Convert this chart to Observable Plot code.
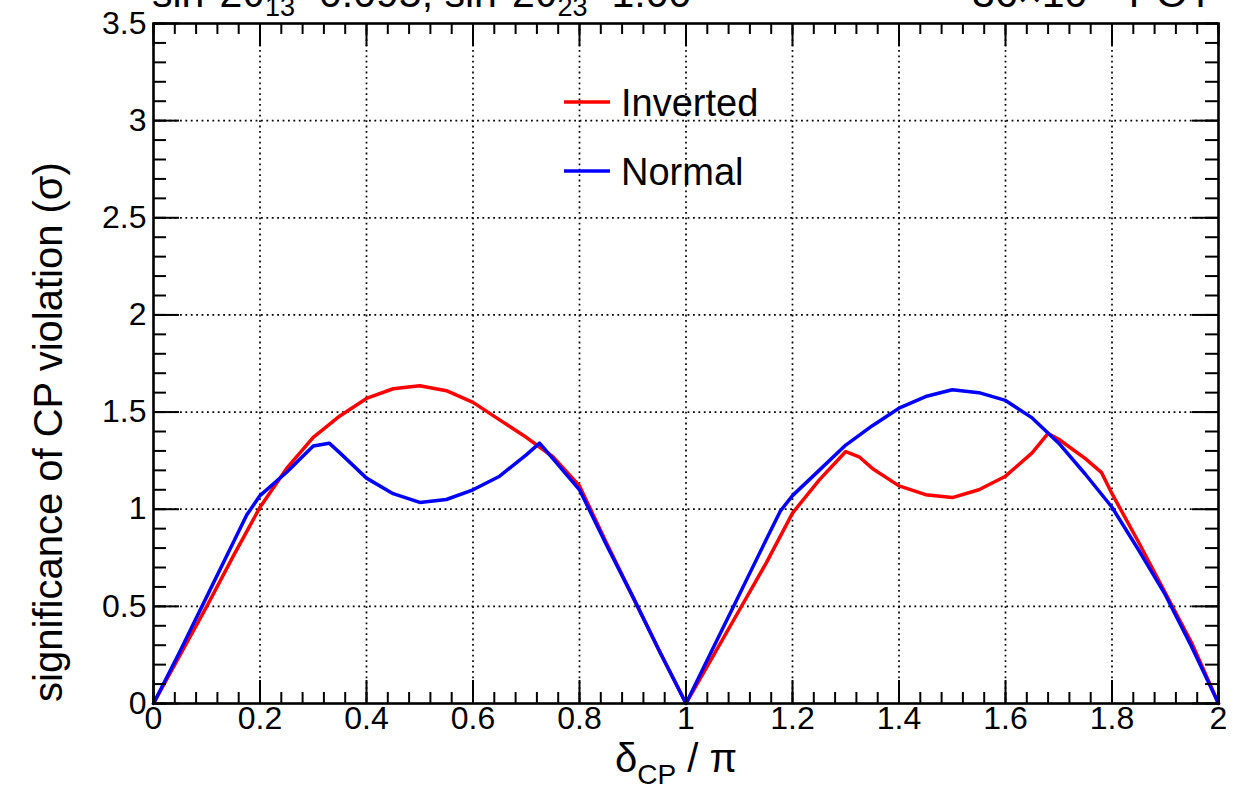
<!DOCTYPE html>
<html><head><meta charset="utf-8">
<script src="https://cdn.jsdelivr.net/npm/d3@7"></script>
<script src="https://cdn.jsdelivr.net/npm/@observablehq/plot@0.6"></script>
<style>
body{margin:0;background:#fff;}
#chart svg{display:block;}
</style></head><body><div id="chart"></div>
<script>
// ---- data ----
const deltaInverted = [0,0.05,0.1,0.15,0.2,0.25,0.3,0.35,0.4,0.45,0.5,0.55,0.6,0.65,0.7,0.75,0.8,0.85,0.9,0.95,1.0,
  1.05,1.1,1.15,1.2,1.25,1.3,1.325,1.35,1.4,1.45,1.5,1.55,1.6,1.65,1.68,1.7,1.75,1.78,1.8,1.85,1.9,1.95,2.0];
const sigmaInverted = [0,0.25,0.5,0.76,1.01,1.21,1.37,1.48,1.57,1.62,1.635,1.61,1.55,1.46,1.37,1.27,1.12,0.83,0.55,0.27,0,
  0.24,0.48,0.72,0.98,1.15,1.297,1.27,1.21,1.12,1.075,1.06,1.10,1.17,1.29,1.39,1.36,1.26,1.19,1.08,0.83,0.57,0.31,0];
const deltaNormal = [0,0.05,0.1,0.15,0.175,0.2,0.25,0.3,0.33,0.35,0.4,0.45,0.5,0.55,0.6,0.65,0.7,0.725,0.75,0.8,0.85,0.9,0.95,1.0,
  1.05,1.1,1.15,1.177,1.2,1.25,1.3,1.35,1.4,1.45,1.5,1.55,1.6,1.65,1.7,1.75,1.8,1.85,1.9,1.95,2.0];
const sigmaNormal = [0,0.27,0.55,0.83,0.97,1.07,1.19,1.325,1.34,1.29,1.16,1.08,1.035,1.05,1.10,1.17,1.28,1.34,1.26,1.10,0.82,0.55,0.27,0,
  0.28,0.56,0.84,0.99,1.07,1.2,1.33,1.43,1.52,1.58,1.615,1.60,1.56,1.47,1.34,1.18,1.01,0.79,0.56,0.29,0];
const seriesNames = ["Inverted", "Normal"];
const seriesColors = ["#ff0000", "#0000ff"];
const xTicks = [0,0.2,0.4,0.6,0.8,1,1.2,1.4,1.6,1.8,2];
const yTicks = [0,0.5,1,1.5,2,2.5,3,3.5];
const xMinor = d3.range(0, 51).map(i => i * 0.04);
const yMinor = d3.range(0, 36).map(i => i * 0.1);

const rows = [
  ...deltaInverted.map((d, i) => ({series: seriesNames[0], delta: d, sigma: sigmaInverted[i]})),
  ...deltaNormal.map((d, i) => ({series: seriesNames[1], delta: d, sigma: sigmaNormal[i]}))
];

// ---- layout ----
const W = 1249, H = 791, mL = 153, mR = 31, mT = 23, mB = 88;
const innerW = W - mL - mR, innerH = H - mT - mB;
const FONT = "'Liberation Sans', Arial, Helvetica, sans-serif";

const plot = Plot.plot({
  width: W, height: H,
  marginLeft: mL, marginRight: mR, marginTop: mT, marginBottom: mB,
  style: {fontFamily: FONT, fontSize: "32px", color: "black", background: "white", overflow: "visible"},
  x: {domain: [0, 2], label: null},
  y: {domain: [0, 3.5], label: null},
  color: {domain: seriesNames, range: seriesColors},
  marks: [
    Plot.ruleX(xTicks.slice(1, -1), {stroke: "black", strokeWidth: 1.7, strokeDasharray: "1.8,3.6"}),
    Plot.ruleY(yTicks.slice(1, -1), {stroke: "black", strokeWidth: 1.7, strokeDasharray: "1.8,3.6"}),
    Plot.line(rows, {x: "delta", y: "sigma", z: "series", stroke: "series", strokeWidth: 3.5, strokeLinejoin: "round"}),
    // inward ticks on all four sides
    Plot.ruleX(xTicks, {stroke: "black", strokeWidth: 2, insetTop: innerH - 23}),
    Plot.ruleX(xTicks, {stroke: "black", strokeWidth: 2, insetBottom: innerH - 23}),
    Plot.ruleX(xMinor, {stroke: "black", strokeWidth: 2, insetTop: innerH - 11}),
    Plot.ruleX(xMinor, {stroke: "black", strokeWidth: 2, insetBottom: innerH - 11}),
    Plot.ruleY(yTicks, {stroke: "black", strokeWidth: 2, insetRight: innerW - 26}),
    Plot.ruleY(yTicks, {stroke: "black", strokeWidth: 2, insetLeft: innerW - 26}),
    Plot.ruleY(yMinor, {stroke: "black", strokeWidth: 2, insetRight: innerW - 13}),
    Plot.ruleY(yMinor, {stroke: "black", strokeWidth: 2, insetLeft: innerW - 13}),
    Plot.frame({stroke: "black", strokeWidth: 2.6}),
    Plot.axisX({ticks: xTicks, tickSize: 0, tickPadding: 3, tickFormat: d3.format("~g"), label: null}),
    Plot.axisY({ticks: yTicks, tickSize: 0, tickPadding: 7, tickFormat: d3.format("~g"), label: null})
  ]
});
document.getElementById("chart").appendChild(plot);

// ---- annotations ----
const svg = d3.select(plot);
function rich(x, y, parts, anchor) {
  const t = svg.append("text").attr("x", x).attr("y", y)
    .attr("font-family", FONT).attr("fill", "black").attr("text-anchor", anchor || "start");
  let cur = 0;
  for (const p of parts) {
    const s = p.shift || 0;
    t.append("tspan").attr("dy", s - cur).attr("font-size", p.size).text(p.t);
    cur = s;
  }
  return t;
}
// top-left (cut off by the top edge, as in the reference)
rich(152, 7, [
  {t: "sin", size: 41}, {t: "2", size: 27, shift: -17}, {t: "2θ", size: 41},
  {t: "13", size: 27, shift: 9}, {t: "=0.095, sin", size: 41}, {t: "2", size: 27, shift: -17},
  {t: "2θ", size: 41}, {t: "23", size: 27, shift: 9}, {t: "=1.00", size: 41}
]);
// top-right
rich(1213, 7, [
  {t: "36×10", size: 41}, {t: "20", size: 27, shift: -17}, {t: " POT", size: 41}
], "end");
// x title
rich(615, 772, [
  {t: "δ", size: 40}, {t: "CP", size: 28, shift: 12}, {t: " / π", size: 40}
]);
// y title
svg.append("text").attr("transform", "rotate(-90)")
  .attr("x", -432).attr("y", 62).attr("text-anchor", "middle")
  .attr("font-family", FONT).attr("font-size", 40).attr("fill", "black")
  .text("significance of CP violation (σ)");
// legend
const legendY = [102, 171];
seriesNames.forEach((name, i) => {
  svg.append("line").attr("x1", 564).attr("x2", 610).attr("y1", legendY[i]).attr("y2", legendY[i])
    .attr("stroke", seriesColors[i]).attr("stroke-width", 3.5);
  svg.append("text").attr("x", 621).attr("y", legendY[i] + 14).attr("text-anchor", "start")
    .attr("font-family", FONT).attr("font-size", 38).attr("fill", "black").text(name);
});
</script></body></html>
